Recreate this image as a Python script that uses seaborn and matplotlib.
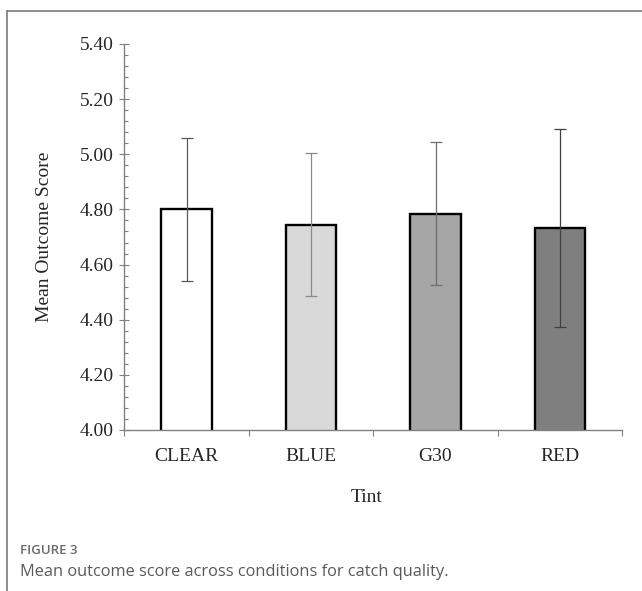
import matplotlib
matplotlib.use("Agg")
import matplotlib.pyplot as plt
from matplotlib.lines import Line2D
from matplotlib.ticker import MultipleLocator, FixedLocator
import seaborn as sns
import pandas as pd

categories = ["CLEAR", "BLUE", "G30", "RED"]
means = [4.80, 4.745, 4.785, 4.733]
errors = [0.26, 0.26, 0.26, 0.36]
bar_colors = ["#ffffff", "#d9d9d9", "#a6a6a6", "#7f7f7f"]
err_colors = ["#5a5a5a", "#8a8a8a", "#6e6e6e", "#404040"]

sns.set_style("white")
plt.rcParams["font.family"] = ["Liberation Serif", "DejaVu Serif"]

fig = plt.figure(figsize=(6.42, 5.91), dpi=100)
ax = fig.add_axes([124.3 / 642, 1 - 430 / 591, 498 / 642, 386 / 591])

df = pd.DataFrame({"Tint": categories, "Mean": means})
sns.barplot(data=df, x="Tint", y="Mean", hue="Tint", palette=bar_colors,
            edgecolor="black", linewidth=1.7, width=0.405, legend=False,
            saturation=1, ax=ax, zorder=2)

for i, (m, e, c) in enumerate(zip(means, errors, err_colors)):
    ax.errorbar(i, m, yerr=e, fmt="none", ecolor=c, elinewidth=0.9,
                capsize=4.5, capthick=0.9, zorder=3)

ax.set_xlim(-0.5, 3.5)
ax.set_ylim(4.0, 5.4)

# y ticks
ax.yaxis.set_major_locator(MultipleLocator(0.2))
ax.yaxis.set_minor_locator(MultipleLocator(0.04))
ax.set_yticklabels([f"{v:.2f}" for v in ax.get_yticks()])
ax.tick_params(axis="y", which="major", direction="inout", length=7.5,
               width=0.8, color="#808080", labelsize=14, pad=4, left=True)
ax.tick_params(axis="y", which="minor", direction="in", length=2.6,
               width=0.8, color="#808080", left=True)

# x ticks: tick marks at category boundaries, labels at centers
ax.xaxis.set_major_locator(FixedLocator([0, 1, 2, 3]))
ax.set_xticklabels(categories)
ax.xaxis.set_minor_locator(FixedLocator([-0.5, 0.5, 1.5, 2.5, 3.5]))
ax.tick_params(axis="x", which="major", length=0, labelsize=14, pad=13)
ax.tick_params(axis="x", which="minor", direction="out", length=4.5,
               width=0.8, color="#808080", bottom=True)

for s in ["top", "right"]:
    ax.spines[s].set_visible(False)
for s in ["left", "bottom"]:
    ax.spines[s].set_color("#808080")
    ax.spines[s].set_linewidth(1.0)

ax.set_xlabel("Tint", fontsize=14)
ax.set_ylabel("Mean Outcome Score", fontsize=14)
ax.xaxis.set_label_coords(0.487, -0.176)
ax.yaxis.set_label_coords(-0.161, 0.5)
ax.xaxis.label.set_va("center")
ax.yaxis.label.set_va("center")

# caption
fig.text(20 / 642, 1 - 551 / 591, "FIGURE 3", fontsize=9.5, color="#6a6a6a",
         fontweight="semibold", family=["Open Sans", "DejaVu Sans"],
         va="center", ha="left")
fig.text(20 / 642, 1 - 572 / 591,
         "Mean outcome score across conditions for catch quality.",
         fontsize=11.8, color="#5a5a5a", family=["Open Sans", "DejaVu Sans"],
         va="center", ha="left")

# frame border (top and left)
fig.add_artist(Line2D([7 / 642, 1.0], [1 - 11 / 591, 1 - 11 / 591],
                      color="#7a7a7a", linewidth=1.2, transform=fig.transFigure))
fig.add_artist(Line2D([7 / 642, 7 / 642], [1 - 11 / 591, 0.0],
                      color="#7a7a7a", linewidth=1.2, transform=fig.transFigure))

fig.savefig("out.png", dpi=100)
